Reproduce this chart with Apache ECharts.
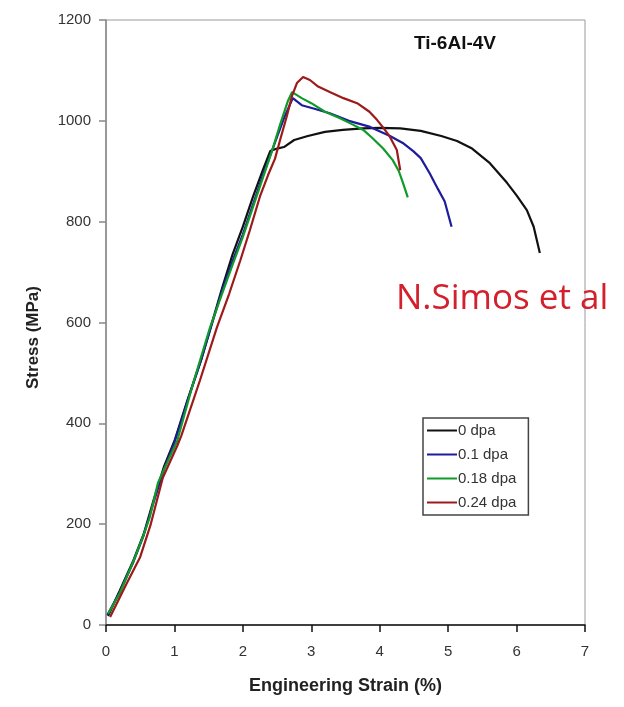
<!DOCTYPE html>
<html>
<head>
<meta charset="utf-8">
<script src="https://cdn.jsdelivr.net/npm/echarts@6/dist/echarts.min.js"></script>
<style>
  html, body { margin: 0; padding: 0; background: #fff; }
  #chart { width: 624px; height: 707px; }
</style>
</head>
<body>
<div id="chart"></div>
<script>
// stress-strain curves: [strain %, stress MPa]
const seriesNames = ["0 dpa", "0.1 dpa", "0.18 dpa", "0.24 dpa"];
const seriesColors = ["#111111", "#1c1c9c", "#0f9a2a", "#9c1a1a"];

const dpa0 = [
  [0.03, 18], [0.2, 68], [0.4, 128], [0.55, 180], [0.7, 250], [0.85, 315], [1.0, 365],
  [1.2, 450], [1.4, 530], [1.55, 600], [1.7, 670], [1.85, 735], [2.0, 790], [2.15, 850],
  [2.3, 905], [2.4, 940], [2.5, 945], [2.6, 948], [2.75, 962], [2.95, 970], [3.2, 978],
  [3.46, 982], [3.75, 985], [4.0, 986], [4.3, 985], [4.6, 980], [4.9, 970], [5.13, 960],
  [5.35, 945], [5.61, 916], [5.86, 877], [6.0, 852], [6.15, 823], [6.25, 790], [6.34, 738]
];
const dpa01 = [
  [0.02, 20], [0.2, 65], [0.4, 125], [0.55, 178], [0.7, 245], [0.85, 310], [1.0, 362],
  [1.2, 448], [1.4, 530], [1.55, 598], [1.7, 665], [1.85, 722], [2.0, 775], [2.15, 835],
  [2.3, 895], [2.45, 950], [2.6, 1005], [2.73, 1045], [2.86, 1031], [3.02, 1025], [3.27, 1015],
  [3.55, 1000], [3.86, 988], [4.15, 970], [4.35, 955], [4.49, 940], [4.6, 926], [4.73, 896],
  [4.85, 865], [4.95, 840], [5.05, 790]
];
const dpa018 = [
  [0.03, 22], [0.2, 63], [0.39, 123], [0.54, 175], [0.64, 214], [0.76, 282], [0.89, 321],
  [1.04, 365], [1.27, 478], [1.52, 590], [1.71, 662], [1.85, 715], [2.0, 770], [2.15, 830],
  [2.3, 890], [2.43, 942], [2.55, 995], [2.66, 1040], [2.72, 1057], [2.86, 1045], [3.0, 1035],
  [3.2, 1018], [3.42, 1005], [3.6, 993], [3.76, 982], [3.9, 965], [4.05, 945], [4.19, 922],
  [4.28, 900], [4.34, 877], [4.41, 848]
];
const dpa024 = [
  [0.06, 16], [0.3, 82], [0.5, 135], [0.65, 198], [0.83, 292], [1.04, 355], [1.1, 375],
  [1.37, 484], [1.62, 590], [1.8, 657], [1.96, 722], [2.1, 782], [2.25, 850], [2.37, 893],
  [2.47, 925], [2.55, 965], [2.64, 1008], [2.72, 1050], [2.79, 1075], [2.88, 1087], [2.98, 1081],
  [3.1, 1068], [3.27, 1057], [3.47, 1045], [3.67, 1035], [3.85, 1018], [3.96, 1002], [4.06, 985],
  [4.15, 968], [4.25, 942], [4.3, 902]
];
const allCurves = [dpa0, dpa01, dpa018, dpa024];

const chart = echarts.init(document.getElementById("chart"));
const font = "'Liberation Sans', Arial, sans-serif";

const option = {
  backgroundColor: "#fff",
  animation: false,
  title: {
    text: "Ti-6Al-4V",
    left: 414,
    top: 34,
    padding: 0,
    textStyle: { fontFamily: font, fontSize: 19, fontWeight: "bold", color: "#111" }
  },
  graphic: [
    {
      type: "text",
      left: 396,
      top: 282,
      z: 100,
      style: { text: "N.Simos et al", fontFamily: "'Open Sans', sans-serif", fontSize: 35, fill: "#d3202c" }
    }
  ],
  legend: {
    data: seriesNames,
    orient: "vertical",
    left: 423,
    top: 418,
    icon: "rect",
    itemWidth: 30,
    itemHeight: 2,
    itemGap: 9,
    padding: [5, 12, 5, 4],
    borderColor: "#444",
    borderWidth: 1.5,
    borderRadius: 0,
    backgroundColor: "#fff",
    textStyle: { fontFamily: font, fontSize: 15, color: "#333", padding: [0, 0, 0, -4] }
  },
  grid: {
    left: 106, right: 39, top: 20, bottom: 82,
    show: true, borderColor: "#999", borderWidth: 1
  },
  xAxis: {
    type: "value",
    min: 0, max: 7, interval: 1,
    name: "Engineering Strain (%)",
    nameLocation: "middle",
    nameGap: 52,
    nameTextStyle: { fontFamily: font, fontSize: 18, fontWeight: "bold", color: "#222" },
    axisLine: { lineStyle: { color: "#111", width: 1.5 } },
    axisTick: { length: 7, lineStyle: { color: "#111", width: 1.5 } },
    axisLabel: { fontFamily: font, fontSize: 15, color: "#333", margin: 19 },
    splitLine: { show: false }
  },
  yAxis: {
    type: "value",
    min: 0, max: 1200, interval: 200,
    name: "Stress (MPa)",
    nameLocation: "middle",
    nameGap: 64,
    nameTextStyle: { fontFamily: font, fontSize: 17, fontWeight: "bold", color: "#222", padding: [0, 30, 0, 0] },
    axisLine: { lineStyle: { color: "#888", width: 1.5 } },
    axisTick: { length: 7, lineStyle: { color: "#888", width: 1.5 } },
    axisLabel: { fontFamily: font, fontSize: 15, color: "#333", margin: 15, formatter: (v) => String(v) },
    splitLine: { show: false }
  },
  series: seriesNames.map((name, i) => ({
    name: name,
    type: "line",
    data: allCurves[i],
    symbol: "none",
    smooth: false,
    lineStyle: { width: 2.2, color: seriesColors[i] },
    itemStyle: { color: seriesColors[i] }
  }))
};

chart.setOption(option);
</script>
</body>
</html>
